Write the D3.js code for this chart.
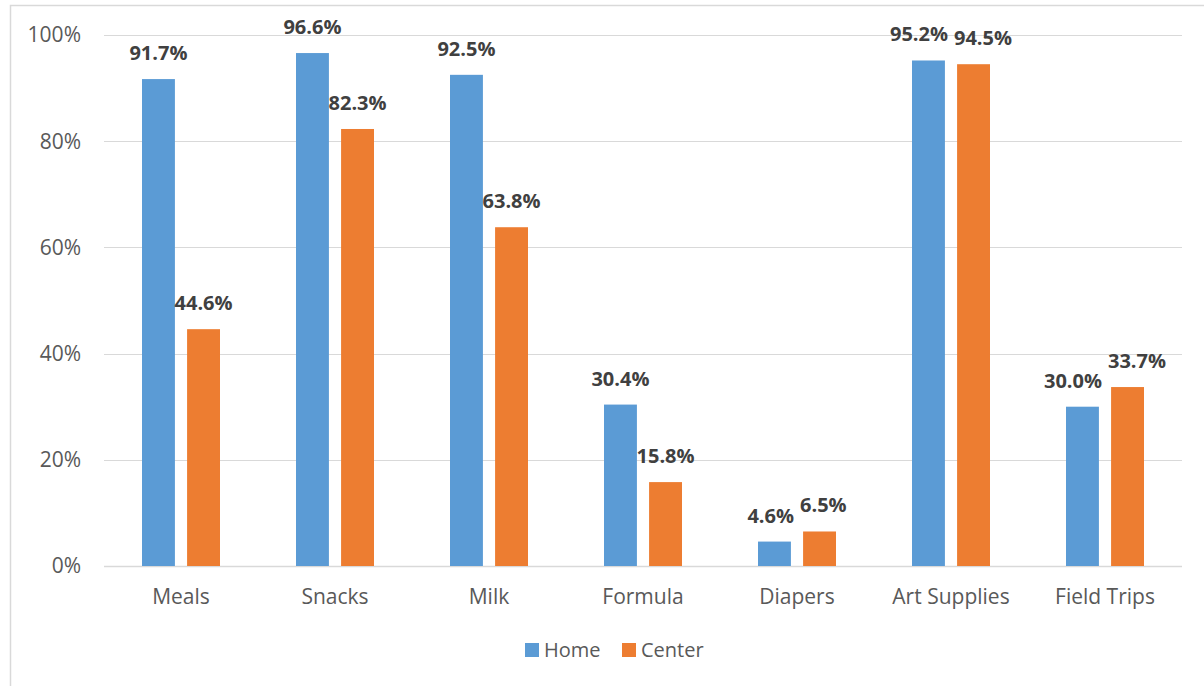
<!DOCTYPE html>
<html>
<head>
<meta charset="utf-8">
<script src="https://cdn.jsdelivr.net/npm/d3@7"></script>
<style>
  html, body { margin: 0; padding: 0; background: #fff; }
  #box { width: 1204px; height: 686px; }
  text { font-family: "Open Sans", sans-serif; }
</style>
</head>
<body>
<div id="box"></div>
<script>
// chart values
const categories = ['Meals', 'Snacks', 'Milk', 'Formula', 'Diapers', 'Art Supplies', 'Field Trips'];
const seriesNames = ['Home', 'Center'];
const homeValues = [91.7, 96.6, 92.5, 30.4, 4.6, 95.2, 30.0];
const centerValues = [44.6, 82.3, 63.8, 15.8, 6.5, 94.5, 33.7];
const yTicks = [0, 20, 40, 60, 80, 100];
const colors = ['#5B9BD5', '#ED7D31'];

const width = 1204;
const height = 686;
const padLeft = 104;
const padRight = 22;
const padTop = 35;
const plotBottom = 566;

const rows = categories.map((c, i) => ({ cat: c, vals: [homeValues[i], centerValues[i]] }));

const svg = d3.select('#box').append('svg')
  .attr('width', width)
  .attr('height', height);

// chart frame
svg.append('rect')
  .attr('x', 10.5).attr('y', 5.5)
  .attr('width', width + 10).attr('height', height + 10)
  .style('fill', 'none')
  .style('stroke', '#d9d9d9')
  .style('stroke-width', 1.5);

const x = d3.scaleBand()
  .domain(categories)
  .range([padLeft, width - padRight]);

const xInner = d3.scaleBand()
  .domain(seriesNames)
  .range([x.bandwidth() / 2 - 39, x.bandwidth() / 2 + 39])
  .paddingInner(0.27);

const y = d3.scaleLinear()
  .domain([0, 100])
  .range([plotBottom, padTop]);

// gridlines
svg.append('g').selectAll('line').data(yTicks)
  .join('line')
    .attr('x1', padLeft).attr('x2', width - padRight)
    .attr('y1', d => Math.round(y(d)) + 0.5)
    .attr('y2', d => Math.round(y(d)) + 0.5)
    .style('stroke', '#d9d9d9')
    .style('stroke-width', d => d === 0 ? 1.5 : 1);

// y labels
svg.append('g').selectAll('text').data(yTicks)
  .join('text')
    .attr('x', 81)
    .attr('y', d => y(d))
    .attr('dy', '0.35em')
    .attr('text-anchor', 'end')
    .text(d => d + '%')
    .style('fill', '#595959')
    .style('font-size', '21px');

// x labels
svg.append('g').selectAll('text').data(categories)
  .join('text')
    .attr('x', d => x(d) + x.bandwidth() / 2)
    .attr('y', 604)
    .attr('text-anchor', 'middle')
    .text(d => d)
    .style('fill', '#595959')
    .style('font-size', '21px');

const groups = svg.append('g').selectAll('g').data(rows)
  .join('g')
    .attr('transform', d => `translate(${x(d.cat)},0)`);

groups.selectAll('rect').data(d => d.vals.map((v, i) => ({ s: seriesNames[i], v, i })))
  .join('rect')
    .attr('x', d => xInner(d.s))
    .attr('y', d => y(d.v))
    .attr('width', xInner.bandwidth())
    .attr('height', d => y(0) - y(d.v))
    .style('fill', d => colors[d.i]);

groups.selectAll('text').data(d => d.vals.map((v, i) => ({ s: seriesNames[i], v, i })))
  .join('text')
    .attr('x', d => xInner(d.s) + xInner.bandwidth() / 2)
    .attr('y', d => y(d.v) - 19)
    .attr('text-anchor', 'middle')
    .text(d => d.v.toFixed(1) + '%')
    .style('fill', '#404040')
    .style('font-weight', 'bold')
    .style('font-size', '20px');

// push apart labels that collide inside a group
groups.each(function () {
  const labels = d3.select(this).selectAll('text').nodes();
  const a = labels[0].getBBox(), b = labels[1].getBBox();
  const overlapX = a.x + a.width - b.x;
  const overlapY = Math.min(a.y + a.height, b.y + b.height) - Math.max(a.y, b.y);
  if (overlapX > 0 && overlapY > 4) {
    const shift = overlapX / 2 + 3;
    d3.select(labels[0]).attr('x', +labels[0].getAttribute('x') - shift);
    d3.select(labels[1]).attr('x', +labels[1].getAttribute('x') + shift);
  }
});

// legend
const legend = svg.append('g').attr('transform', 'translate(525,650)');
const items = [{ n: 'Home', x: 0 }, { n: 'Center', x: 97 }];
legend.selectAll('rect').data(items)
  .join('rect')
    .attr('x', d => d.x).attr('y', -7)
    .attr('width', 14).attr('height', 14)
    .style('fill', (d, i) => colors[i]);
legend.selectAll('text').data(items)
  .join('text')
    .attr('x', d => d.x + 19)
    .attr('y', 0)
    .attr('dy', '0.35em')
    .text(d => d.n)
    .style('fill', '#595959')
    .style('font-size', '20px');
</script>
</body>
</html>
